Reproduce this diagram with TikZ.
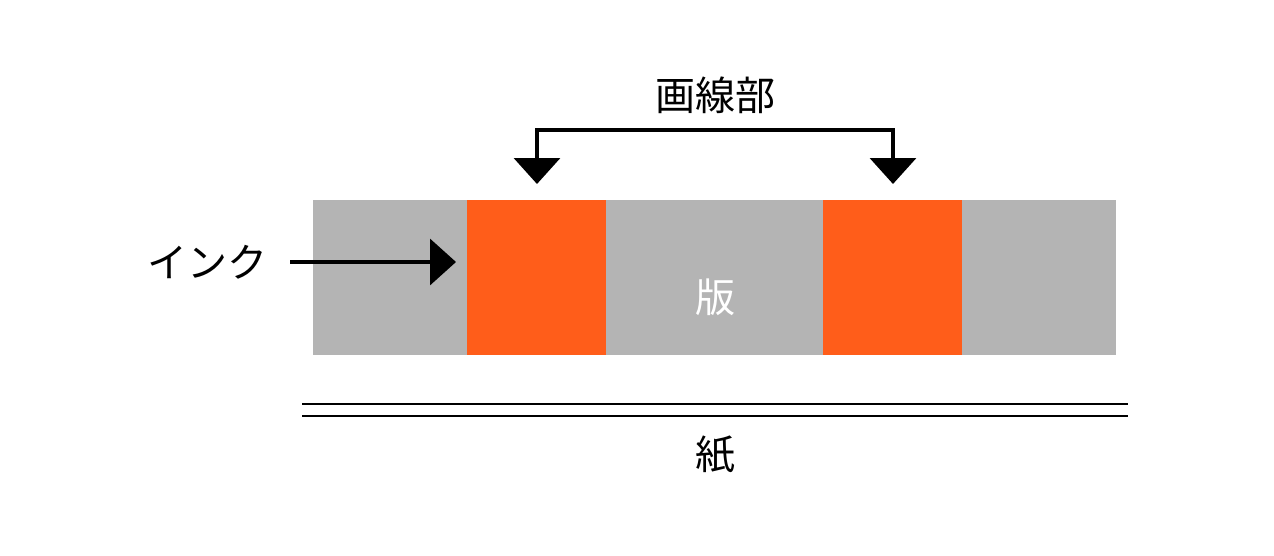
\documentclass[tikz,border=0pt]{standalone}
\usepackage{fontspec}
\newfontfamily\cjk{Noto Sans CJK JP}
\usetikzlibrary{arrows.meta}
\begin{document}
\begin{tikzpicture}[x=1pt,y=-1pt,
  txt/.style={font=\cjk\fontsize{40}{44}\selectfont, inner sep=0pt},
  arr/.style={line width=3.5pt,-{Triangle[width=46pt,length=26pt]}}]
\useasboundingbox (0,0) rectangle (1274,555);
\fill[fill={rgb,255:red,180;green,180;blue,180}] (313,200) rectangle (1116,355);
\fill[fill={rgb,255:red,255;green,93;blue,26}] (467,200) rectangle (606,355);
\fill[fill={rgb,255:red,255;green,93;blue,26}] (823,200) rectangle (962,355);
\node[txt,text=white] (han) at (715,297) {版};
\draw[line width=2.5pt] (302,404) -- (1128,404);
\draw[line width=2.5pt] (302,416) -- (1128,416);
\node[txt] (kami) at (715,455) {紙};
\node[txt] (gasen) at (715,95) {画線部};
\coordinate (b1) at (537,130);
\coordinate (b2) at (893,130);
\coordinate (t1) at (537,184);
\coordinate (t2) at (893,184);
\draw[line width=3.5pt] (t1 |- 0,160) -- (b1) -- (b2) -- (t2 |- 0,160);
\draw[arr] (b1) -- (t1);
\draw[arr] (b2) -- (t2);
\node[txt] (ink) at (207,262) {インク};
\coordinate (inkend) at (456,262);
\draw[arr] (290,262) -- (inkend);
\end{tikzpicture}
\end{document}
